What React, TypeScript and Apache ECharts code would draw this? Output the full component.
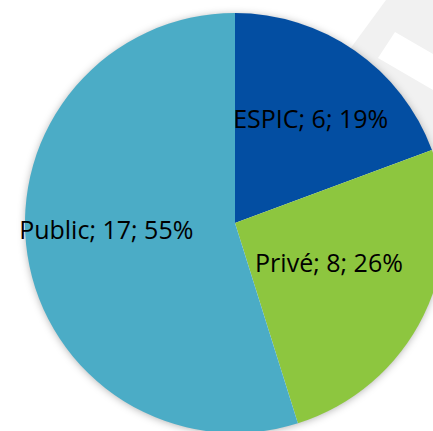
import React, { useEffect, useRef } from "react";
import * as echarts from "echarts";

const categories = ["ESPIC", "Privé", "Public"];
const values = [6, 8, 17];
const colors = ["#034EA2", "#8DC63F", "#4BACC6"];
const labelOffsets: [number, number][] = [
  [14, -16],
  [-3, -9],
  [-22, -10],
];

export default function App() {
  const ref = useRef<HTMLDivElement>(null);
  useEffect(() => {
    if (!ref.current) return;
    const chart = echarts.init(ref.current, undefined, { renderer: "svg" });
    chart.setOption({
      animation: false,
      backgroundColor: "#ffffff",
      graphic: [
        {
          type: "polygon",
          z: -10,
          silent: true,
          shape: {
            points: [
              [386, 0],
              [433, 0],
              [433, 160],
              [320, 90],
            ],
          },
          style: { fill: "#f1f1f1" },
        },
        {
          type: "polygon",
          z: -9,
          silent: true,
          shape: {
            points: [
              [395, 32],
              [440, 58],
              [440, 94],
              [378, 58],
            ],
          },
          style: { fill: "#ffffff" },
        },
        {
          type: "circle",
          z: -5,
          silent: true,
          shape: { cx: 235, cy: 223, r: 209 },
          style: {
            fill: "#ffffff",
            shadowBlur: 8,
            shadowColor: "rgba(0,0,0,0.35)",
            shadowOffsetX: 0,
            shadowOffsetY: 1,
          },
        },
      ],
      series: [
        {
          type: "pie",
          center: [235, 223],
          radius: [0, 210],
          startAngle: 90,
          clockwise: true,
          percentPrecision: 0,
          itemStyle: { borderWidth: 0 },
          emphasis: { disabled: true },
          label: {
            show: true,
            position: "inside",
            formatter: "{b}; {c}; {d}%",
            color: "#000000",
            fontFamily: "Open Sans",
            fontWeight: 500,
            fontSize: 25,
          },
          labelLine: { show: false },
          data: categories.map((name, i) => ({
            name,
            value: values[i],
            itemStyle: { color: colors[i] },
            label: { offset: labelOffsets[i] },
          })),
        },
      ],
    });
    return () => chart.dispose();
  }, []);
  return (
    <div
      ref={ref}
      style={{ position: "fixed", left: 0, top: 0, width: 433, height: 431 }}
    />
  );
}
